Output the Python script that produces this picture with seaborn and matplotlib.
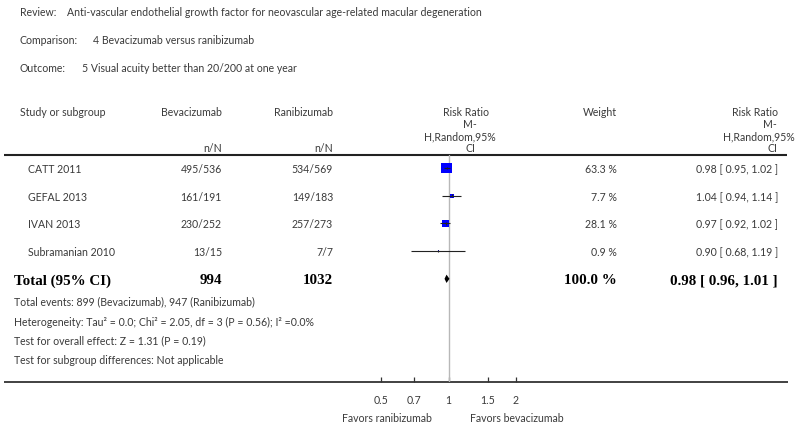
import numpy as np
import pandas as pd
import matplotlib
matplotlib.use('Agg')
import matplotlib.pyplot as plt
from matplotlib.ticker import FixedLocator, FixedFormatter, NullLocator
import seaborn as sns

# dados do forest plot
estudos = ['CATT 2011', 'GEFAL 2013', 'IVAN 2013', 'Subramanian 2010']
bev_n = [495, 161, 230, 13]
bev_N = [536, 191, 252, 15]
ran_n = [534, 149, 257, 7]
ran_N = [569, 183, 273, 7]
pesos = [63.3, 7.7, 28.1, 0.9]
rr = [0.98, 1.04, 0.97, 0.90]
rr_inf = [0.95, 0.94, 0.92, 0.68]
rr_sup = [1.02, 1.14, 1.02, 1.19]

total_bev = 994
total_ran = 1032
total_peso = 100.0
total_rr = 0.98
total_inf = 0.96
total_sup = 1.01

ticks = [0.5, 0.7, 1, 1.5, 2]
tick_labels = ['0.5', '0.7', '1', '1.5', '2']

cabecalho = [
    ('Review:', 'Anti-vascular endothelial growth factor for neovascular age-related macular degeneration'),
    ('Comparison:', '4 Bevacizumab versus ranibizumab'),
    ('Outcome:', '5 Visual acuity better than 20/200 at one year'),
]
rodape = [
    'Total events: 899 (Bevacizumab), 947 (Ranibizumab)',
    'Heterogeneity: Tau² = 0.0; Chi² = 2.05, df = 3 (P = 0.56); I² =0.0%',
    'Test for overall effect: Z = 1.31 (P = 0.19)',
    'Test for subgroup differences: Not applicable',
]

df = pd.DataFrame({'estudo': estudos, 'rr': rr, 'inf': rr_inf, 'sup': rr_sup,
                   'peso': pesos, 'linha': np.arange(len(estudos))})

sns.set_theme(style='white')
plt.rcParams['font.family'] = ['Lato', 'DejaVu Sans']

COR = '#3a3a3a'
FS = 7.6
W, H = 800, 429

fig = plt.figure(figsize=(8, 4.29), dpi=100)
bg = fig.add_axes([0, 0, 1, 1])
bg.set_xlim(0, W)
bg.set_ylim(H, 0)
bg.axis('off')

# linhas de posição (pixels)
y0, dy = 168.0, 27.7
def ypix(i):
    return y0 + dy * i

# cabeçalho
y_cab = [12, 40, 69]
x_val = [67, 93, 82]
for (rot, txt), y, xv in zip(cabecalho, y_cab, x_val):
    bg.text(20, y, rot, fontsize=FS, color=COR, va='center')
    bg.text(xv, y, txt, fontsize=FS, color=COR, va='center')

# títulos das colunas
bg.text(20, 112, 'Study or subgroup', fontsize=FS, color=COR, va='center')
bg.text(222, 112, 'Bevacizumab', fontsize=FS, color=COR, va='center', ha='right')
bg.text(333, 112, 'Ranibizumab', fontsize=FS, color=COR, va='center', ha='right')
bg.text(222, 148, 'n/N', fontsize=FS, color=COR, va='center', ha='right')
bg.text(333, 148, 'n/N', fontsize=FS, color=COR, va='center', ha='right')
for txt, y, x in zip(['Risk Ratio', 'M-', 'H,Random,95%', 'CI'], [112, 125, 137, 149], [466, 470, 460, 470]):
    bg.text(x, y, txt, fontsize=FS, color=COR, va='center', ha='center')
for txt, y, x in zip(['Risk Ratio', 'M-', 'H,Random,95%', 'CI'], [112, 125, 137, 149], [778, 777, 795, 777]):
    bg.text(x, y, txt, fontsize=FS, color=COR, va='center', ha='right')
bg.text(617, 112, 'Weight', fontsize=FS, color=COR, va='center', ha='right')

bg.plot([4, 787], [155, 155], color='#222222', lw=1.5, solid_capstyle='butt')
bg.plot([4, 788], [382, 382], color='#333333', lw=1.3, solid_capstyle='butt')

# linhas dos estudos
for i, r in df.iterrows():
    y = ypix(i) + 1.5
    bg.text(28, y, r['estudo'], fontsize=FS, color=COR, va='center')
    bg.text(222, y, f'{bev_n[i]}/{bev_N[i]}', fontsize=FS, color=COR, va='center', ha='right')
    bg.text(333, y, f'{ran_n[i]}/{ran_N[i]}', fontsize=FS, color=COR, va='center', ha='right')
    bg.text(617, y, f'{r["peso"]:.1f} %', fontsize=FS, color=COR, va='center', ha='right')
    bg.text(778, y, f'{r["rr"]:.2f} [ {r["inf"]:.2f}, {r["sup"]:.2f} ]', fontsize=FS,
            color=COR, va='center', ha='right')

# total
yt = ypix(len(estudos)) + 2
bold = dict(fontsize=10.8, color='black', va='center', family='Liberation Serif', weight='bold')
bg.text(14, yt, 'Total (95% CI)', **bold)
bg.text(222, yt, str(total_bev), ha='right', **bold)
bg.text(333, yt, str(total_ran), ha='right', **bold)
bg.text(617, yt, f'{total_peso:.1f} %', ha='right', **bold)
bg.text(778, yt, f'{total_rr:.2f} [ {total_inf:.2f}, {total_sup:.2f} ]', ha='right', **bold)

for txt, y in zip(rodape, [302, 322, 341, 360]):
    bg.text(14, y, txt, fontsize=FS, color=COR, va='center')

bg.text(432, 419, 'Favors ranibizumab', fontsize=FS, color=COR, va='center', ha='right')
bg.text(470, 419, 'Favors bevacizumab', fontsize=FS, color=COR, va='center', ha='left')

# eixo do forest plot (escala log)
x1_pix, px_dec = 448.5, 224.0
xl, xr = 340, 557
yt_pix, yb_pix = 155, 382
ax = fig.add_axes([xl / W, (H - yb_pix) / H, (xr - xl) / W, (yb_pix - yt_pix) / H])
ax.set_xscale('log')
ax.set_xlim(10 ** ((xl - x1_pix) / px_dec), 10 ** ((xr - x1_pix) / px_dec))
ax.set_ylim((yb_pix - y0) / dy, (yt_pix - y0) / dy)
ax.patch.set_alpha(0)
for s in ax.spines.values():
    s.set_visible(False)
ax.set_yticks([])
ax.axvline(1, color='#b8b8b8', lw=1, zorder=1)

k = 0.9  # area por ponto de peso
sns.scatterplot(data=df, x='rr', y='linha', size='peso', sizes=(k * min(pesos), k * max(pesos)),
                marker='s', color='#0000ff', linewidth=0, legend=False, ax=ax, zorder=3)
ax.hlines(df['linha'], df['inf'], df['sup'], color='#222222', lw=0.8, zorder=4)
ax.vlines(df['rr'], df['linha'] - 0.05, df['linha'] + 0.05, color='#222222', lw=0.8, zorder=4)

lt = len(estudos)
h = 0.15
ax.fill([total_inf, total_rr, total_sup, total_rr], [lt, lt - h, lt, lt + h], color='black', lw=0, zorder=4)

ax.xaxis.set_major_locator(FixedLocator(ticks))
ax.xaxis.set_major_formatter(FixedFormatter(tick_labels))
ax.xaxis.set_minor_locator(NullLocator())
ax.tick_params(axis='x', bottom=True, direction='in', length=3.5, width=0.9, color='#333333',
               pad=9, labelsize=FS, labelcolor=COR)
ax.set_xlabel('')
ax.set_ylabel('')

fig.savefig('out.png', dpi=100)
